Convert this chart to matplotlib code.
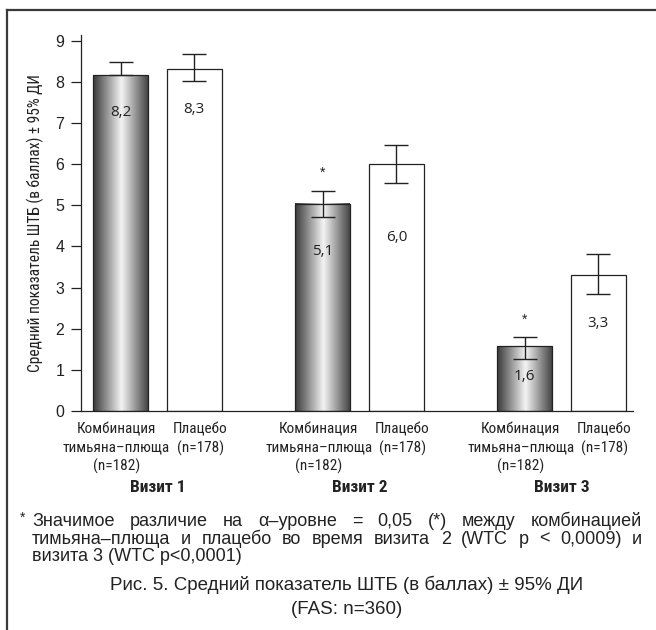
# -*- coding: utf-8 -*-
"""
Средний показатель ШТБ (в баллах) ± 95% ДИ, bars with gradient
"""

# %% libraries
import os
import numpy as np
import matplotlib
matplotlib.use('Agg')
import matplotlib.pyplot as plt
from matplotlib import font_manager
from matplotlib.font_manager import FontProperties
from matplotlib.colors import LinearSegmentedColormap
from matplotlib.lines import Line2D
from matplotlib.transforms import blended_transform_factory


# %% data
visits = ['Визит 1', 'Визит 2', 'Визит 3']
combo_label = ['Комбинация', 'тимьяна–плюща', '(n=182)']
placebo_label = ['Плацебо', '(n=178)']

combo_mean = [8.16, 5.04, 1.57]
combo_lo = [8.16, 4.71, 1.26]     # lower whisker of visit 1 not visible
combo_hi = [8.48, 5.36, 1.79]
placebo_mean = [8.31, 6.01, 3.30]
placebo_lo = [8.02, 5.55, 2.85]
placebo_hi = [8.68, 6.46, 3.82]

combo_text = ['8,2', '5,1', '1,6']
placebo_text = ['8,3', '6,0', '3,3']
significant = [False, True, True]

ylabel = 'Средний показатель ШТБ (в баллах) ± 95% ДИ'
footnote = ['Значимое различие на α–уровне = 0,05 (*) между комбинацией',
            'тимьяна–плюща и плацебо во время визита 2 (WTC p < 0,0009) и',
            'визита 3 (WTC p<0,0001)']
caption = ['Рис. 5. Средний показатель ШТБ (в баллах) ± 95% ДИ',
           '(FAS: n=360)']


# %% fonts: look for a condensed face (Myriad Condensed in the original)
def find_condensed(bold=False):
    prefs = ['robotocondensed', 'liberationsansnarrow', 'dejavusanscondensed',
             'notosans-condensed', 'condensed', 'narrow']
    best, best_rank = None, 99
    for f in font_manager.fontManager.ttflist:
        key = os.path.basename(f.fname).lower().replace(' ', '')
        if f.style != 'normal' or 'italic' in key or 'oblique' in key:
            continue
        w = f.weight if isinstance(f.weight, int) else (700 if 'bold' in str(f.weight) else 400)
        if bold and w != 700:
            continue
        if not bold and w != 400:
            continue
        if 'semi' in key or 'extra' in key:
            continue
        for r, p in enumerate(prefs):
            if p in key and r < best_rank:
                best, best_rank = f.fname, r
    return best


reg_file = find_condensed(False)
bold_file = find_condensed(True)
if reg_file:
    cond = FontProperties(fname=reg_file)
else:
    cond = FontProperties(family='Roboto')
if bold_file:
    cond_bold = FontProperties(fname=bold_file)
else:
    cond_bold = FontProperties(family='Roboto', weight='bold')

plain = ['Liberation Sans', 'DejaVu Sans']
humanist = ['Open Sans', 'DejaVu Sans']
plt.rcParams['font.family'] = plain


def fp(base, size):
    p = base.copy()
    p.set_size(size)
    return p


# %% figure
W, H = 656, 630
fig = plt.figure(figsize=(W / 100, H / 100), dpi=100)
ax = fig.add_axes([81 / W, 1 - 411 / H, (633 - 81) / W, (411 - 35) / H])

x = np.arange(len(visits))
off, width = 0.182, 0.272
x_combo = x - off
x_plac = x + off

# gradient (cylinder look) for the combination bars
cyl = LinearSegmentedColormap.from_list(
    'cyl', [(0, '#383838'), (0.52, '#f4f4f4'), (1, '#454545')])
grad = np.linspace(0, 1, 256).reshape(1, -1)
for xc, m in zip(x_combo, combo_mean):
    ax.imshow(grad, extent=[xc - width / 2, xc + width / 2, 0, m],
              aspect='auto', cmap=cyl, zorder=1, interpolation='bilinear')
ax.bar(x_combo, combo_mean, width, facecolor='none', edgecolor='#222222',
       linewidth=0.9, zorder=2)
ax.bar(x_plac, placebo_mean, width, facecolor='white', edgecolor='#222222',
       linewidth=0.9, zorder=2)

# 95% CI whiskers
cm, pm = np.array(combo_mean), np.array(placebo_mean)
ax.errorbar(x_combo, cm, yerr=[cm - np.array(combo_lo), np.array(combo_hi) - cm],
            fmt='none', ecolor='#222222', elinewidth=1.0, capsize=8.5,
            capthick=1.0, zorder=3)
ax.errorbar(x_plac, pm, yerr=[pm - np.array(placebo_lo), np.array(placebo_hi) - pm],
            fmt='none', ecolor='#222222', elinewidth=1.0, capsize=8.5,
            capthick=1.0, zorder=3)

# value labels inside bars and significance stars
drop_combo = [0.90, 1.17, 0.73]
drop_plac = [0.97, 1.80, 1.17]
for i in range(len(visits)):
    ax.text(x_combo[i], combo_mean[i] - drop_combo[i], combo_text[i],
            ha='center', va='center', fontsize=11, family=humanist,
            color='#222222', zorder=4)
    ax.text(x_plac[i], placebo_mean[i] - drop_plac[i], placebo_text[i],
            ha='center', va='center', fontsize=11, family=humanist,
            color='#222222', zorder=4)
    if significant[i]:
        ax.text(x_combo[i], combo_hi[i] + 0.42, '*', ha='center', va='center',
                fontsize=10, color='#222222')

# axes styling
ax.set_xlim(-0.378, 2.353)
ax.set_ylim(0, 9.14)
ax.set_yticks(range(0, 10))
ax.set_xticks([])
for s in ['top', 'right']:
    ax.spines[s].set_visible(False)
for s in ['left', 'bottom']:
    ax.spines[s].set_linewidth(0.9)
    ax.spines[s].set_color('#222222')
ax.tick_params(axis='y', direction='out', length=7, width=0.9,
               labelsize=11.5, pad=5, color='#222222', labelcolor='#222222')
ax.set_ylabel(ylabel, fontproperties=fp(cond, 11.2), color='#222222', labelpad=8)

# category labels under the axis
tr = blended_transform_factory(ax.transData, fig.transFigure)
line_y = [430, 448, 466.5]
for i in range(len(visits)):
    for k, s in enumerate(combo_label):
        ax.text(x_combo[i] - 0.02, 1 - line_y[k] / H, s, transform=tr,
                ha='center', va='center', fontproperties=fp(cond, 11),
                color='#222222')
    for k, s in enumerate(placebo_label):
        ax.text(x_plac[i] + 0.03, 1 - line_y[k] / H, s, transform=tr,
                ha='center', va='center', fontproperties=fp(cond, 11),
                color='#222222')
    ax.text(x[i], 1 - 487 / H, visits[i], transform=tr, ha='center',
            va='center', fontproperties=fp(cond_bold, 12.5), color='#222222')


# %% footnote (justified) and caption
def put_justified(words, y, x0, x1, **kw):
    r = fig.canvas.get_renderer()
    texts = [fig.text(0, 1 - y / H, w, va='baseline', ha='left', **kw)
             for w in words]
    widths = [t.get_window_extent(r).width for t in texts]
    gap = (x1 - x0 - sum(widths)) / (len(words) - 1)
    pos = x0
    for t, w in zip(texts, widths):
        t.set_x(pos / W)
        pos += w + gap


fn_kw = dict(fontsize=13, color='#222222', family=plain)
fig.text(20 / W, 1 - 522 / H, '*', ha='left', va='baseline', fontsize=10,
         color='#222222')
fig.canvas.draw()
put_justified(footnote[0].split(), 526, 32, 642, **fn_kw)
put_justified(footnote[1].split(), 543.5, 32, 642, **fn_kw)
fig.text(32 / W, 1 - 561 / H, footnote[2], ha='left', va='baseline', **fn_kw)

fig.text(347 / W, 1 - 585 / H, caption[0], ha='center', va='center',
         fontsize=13.5, color='#222222')
fig.text(347 / W, 1 - 610 / H, caption[1], ha='center', va='center',
         fontsize=13.5, color='#222222')

# outer frame (left and top)
fig.add_artist(Line2D([7 / W, 7 / W], [0, 1 - 10 / H], transform=fig.transFigure,
                      color='#3a3a3a', linewidth=1.6))
fig.add_artist(Line2D([7 / W, 1], [1 - 10 / H, 1 - 10 / H],
                      transform=fig.transFigure, color='#3a3a3a', linewidth=1.6))

# save plot
plt.savefig('out.png', dpi=100)
